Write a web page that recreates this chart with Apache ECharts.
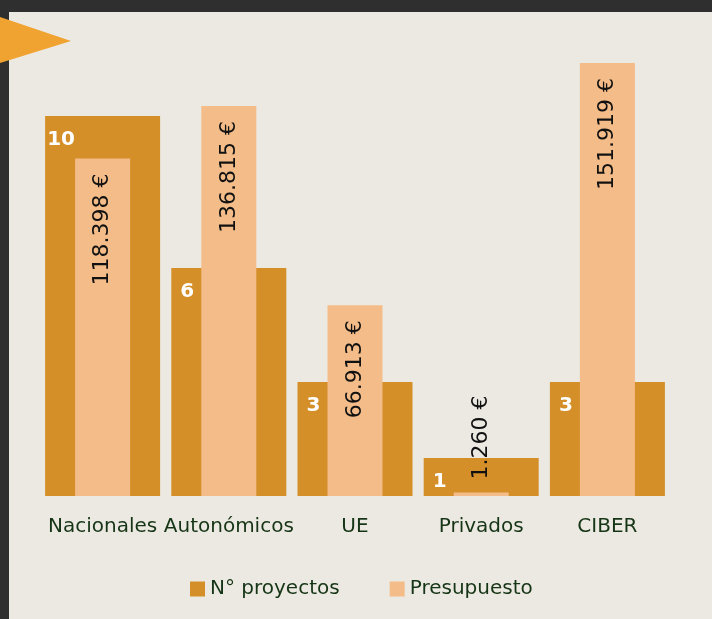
<!DOCTYPE html>
<html>
<head>
<meta charset="utf-8">
<script src="https://cdn.jsdelivr.net/npm/echarts@6/dist/echarts.min.js"></script>
<style>
  html, body { margin: 0; padding: 0; background: #ECE9E2; }
  #chart { width: 712px; height: 619px; }
</style>
</head>
<body>
<div id="chart"></div>
<script>
// datos
var categorias = ['Nacionales', 'Autonómicos', 'UE', 'Privados', 'CIBER'];
var proyectos = [10, 6, 3, 1, 3];
var presupuesto = [118398, 136815, 66913, 1260, 151919];
var nombres = ['N° proyectos', 'Presupuesto'];

var oscuro = '#D48F28';
var claro = '#F4BC88';
var texto = '#163516';
var fuente = 'DejaVu Sans';

function euros(v) {
  return String(v).replace(/\B(?=(\d{3})+(?!\d))/g, '.') + ' €';
}

// la barra de Privados es muy baja, su etiqueta va encima
var datosPresupuesto = presupuesto.map(function (v, i) {
  if (v < 10000) {
    return { value: v, label: { position: 'top', distance: 97 } };
  }
  return v;
});

var myChart = echarts.init(document.getElementById('chart'));
myChart.setOption({
  backgroundColor: '#ECE9E2',
  animation: false,
  textStyle: { fontFamily: fuente },
  graphic: [
    { type: 'rect', shape: { x: 0, y: 0, width: 712, height: 12 }, style: { fill: '#2f2f2f' }, z: 1 },
    { type: 'rect', shape: { x: 0, y: 0, width: 9, height: 619 }, style: { fill: '#2f2f2f' }, z: 1 },
    { type: 'polygon', shape: { points: [[0, 17], [71, 41], [0, 63]] }, style: { fill: '#F0A330' }, z: 2 }
  ],
  legend: {
    left: 185,
    top: 574,
    itemWidth: 15,
    itemHeight: 15,
    itemGap: 50,
    icon: 'rect',
    textStyle: { color: texto, fontSize: 20, fontFamily: fuente },
    data: nombres
  },
  grid: { left: 39.5, right: 41.5, top: 40, bottom: 123 },
  xAxis: [
    {
      type: 'category',
      data: categorias,
      axisLine: { show: false },
      axisTick: { show: false },
      axisLabel: { color: texto, fontSize: 20, margin: 21, fontFamily: fuente, interval: 0 }
    },
    {
      type: 'category',
      data: categorias,
      show: false
    }
  ],
  yAxis: [
    { type: 'value', min: 0, max: 12, show: false },
    { type: 'value', min: 0, max: 160000, show: false }
  ],
  series: [
    {
      name: nombres[0],
      type: 'bar',
      xAxisIndex: 0,
      yAxisIndex: 0,
      barWidth: 115,
      itemStyle: { color: oscuro },
      label: {
        show: true,
        position: [16, 24],
        align: 'center',
        verticalAlign: 'middle',
        color: '#fff',
        fontWeight: 'bold',
        fontSize: 20,
        fontFamily: fuente
      },
      data: proyectos
    },
    {
      name: nombres[1],
      type: 'bar',
      xAxisIndex: 1,
      yAxisIndex: 1,
      barWidth: 55,
      itemStyle: { color: claro },
      label: {
        show: true,
        position: 'insideTop',
        distance: 15,
        rotate: 90,
        align: 'right',
        verticalAlign: 'middle',
        color: '#111',
        fontSize: 22,
        fontFamily: fuente,
        formatter: function (p) { return euros(p.value); }
      },
      data: datosPresupuesto
    }
  ]
});
</script>
</body>
</html>
